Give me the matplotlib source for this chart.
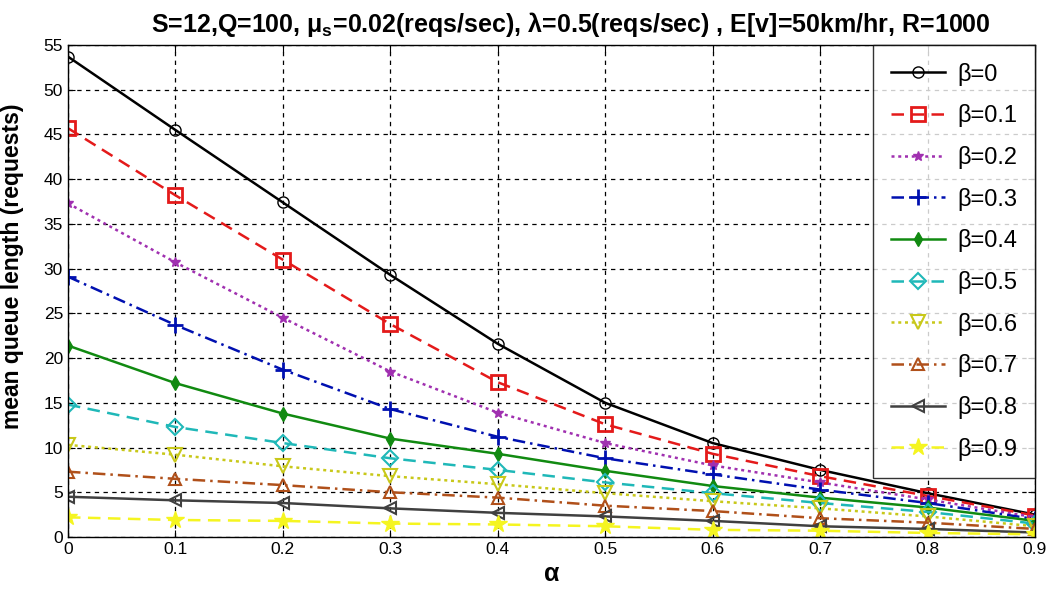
import matplotlib
matplotlib.use("Agg")
import matplotlib.pyplot as plt

plt.rcParams["font.family"] = ["Liberation Sans", "DejaVu Sans"]
plt.rcParams["mathtext.fontset"] = "custom"
plt.rcParams["mathtext.rm"] = "Liberation Sans:bold"
plt.rcParams["mathtext.it"] = "Liberation Sans:bold"
plt.rcParams["mathtext.bf"] = "Liberation Sans:bold"

alpha = [0, 0.1, 0.2, 0.3, 0.4, 0.5, 0.6, 0.7, 0.8, 0.9]

beta_labels = ["β=0", "β=0.1", "β=0.2", "β=0.3", "β=0.4",
               "β=0.5", "β=0.6", "β=0.7", "β=0.8", "β=0.9"]

q_b00 = [53.7, 45.5, 37.4, 29.3, 21.6, 15.0, 10.5, 7.5, 4.9, 2.5]
q_b01 = [45.7, 38.2, 31.0, 23.8, 17.3, 12.6, 9.3, 6.8, 4.6, 2.4]
q_b02 = [37.3, 30.7, 24.5, 18.5, 13.9, 10.5, 8.0, 6.1, 4.2, 2.2]
q_b03 = [29.1, 23.7, 18.7, 14.3, 11.2, 8.8, 7.0, 5.3, 3.8, 2.0]
q_b04 = [21.4, 17.2, 13.8, 11.0, 9.3, 7.4, 5.7, 4.4, 3.3, 1.8]
q_b05 = [14.8, 12.3, 10.5, 8.8, 7.5, 6.1, 4.9, 3.8, 2.8, 1.5]
q_b06 = [10.3, 9.2, 7.9, 6.8, 5.9, 4.9, 4.0, 3.2, 2.3, 1.2]
q_b07 = [7.3, 6.5, 5.8, 5.0, 4.4, 3.5, 2.9, 2.1, 1.6, 0.9]
q_b08 = [4.5, 4.1, 3.8, 3.2, 2.7, 2.3, 1.8, 1.2, 0.9, 0.5]
q_b09 = [2.2, 1.9, 1.8, 1.5, 1.4, 1.2, 0.8, 0.7, 0.45, 0.3]

series = [q_b00, q_b01, q_b02, q_b03, q_b04, q_b05, q_b06, q_b07, q_b08, q_b09]

styles = [
    dict(color="black", ls="-", marker="o", mfc="none", ms=8),
    dict(color="#e41a1a", ls=(0, (5, 3)), marker="s", mfc="none", ms=10, mew=2),
    dict(color="#a030b0", ls=(0, (1.2, 1.5)), marker="*", ms=7),
    dict(color="#0010b0", ls=(0, (5, 2, 1, 2)), marker="+", ms=11, mew=2),
    dict(color="#118a11", ls="-", marker="d", ms=7),
    dict(color="#1fb8b8", ls=(0, (5, 3)), marker="D", mfc="none", ms=8, mew=1.5),
    dict(color="#c8c81a", ls=(0, (1.2, 1.5)), marker="v", mfc="none", ms=10, mew=1.5),
    dict(color="#b0501a", ls=(0, (5, 2, 1, 2)), marker="^", mfc="none", ms=9, mew=1.5),
    dict(color="#404040", ls="-", marker="<", mfc="none", ms=9, mew=1.5),
    dict(color="#f5f520", ls=(0, (5, 3)), marker="*", ms=13),
]

fig = plt.figure(figsize=(10.52, 5.89), dpi=100)
ax = fig.add_axes([0.0646, 0.0883, 0.9192, 0.8353])

for vals, lab, st in zip(series, beta_labels, styles):
    ax.plot(alpha, vals, lw=1.8, label=lab, **st)

ax.set_xlim(0, 0.9)
ax.set_ylim(0, 55)
ax.set_xticks(alpha)
ax.set_xticklabels(["0", "0.1", "0.2", "0.3", "0.4", "0.5", "0.6", "0.7", "0.8", "0.9"])
ax.set_yticks(range(0, 56, 5))
ax.tick_params(direction="in", length=5, labelsize=12.5, top=True, right=True)
ax.grid(True, color="black", ls=(0, (3.5, 3.5)), lw=0.9)
for sp in ax.spines.values():
    sp.set_linewidth(1.0)

ax.set_title(r"S=12,Q=100, $\mu_s$=0.02(reqs/sec), $\lambda$=0.5(reqs/sec) , E[v]=50km/hr, R=1000",
             fontsize=18, fontweight="bold", pad=9, x=0.52)
ax.set_ylabel("mean queue length (requests)", fontsize=16.5, fontweight="bold")
ax.yaxis.set_label_coords(-0.045, 0.55)
ax.set_xlabel("α", fontsize=18, fontweight="bold", labelpad=4)

leg = ax.legend(loc="upper right", fontsize=17, borderaxespad=0, frameon=True,
                fancybox=False, edgecolor="black", handlelength=2.3,
                labelspacing=0.79, borderpad=0.75, handletextpad=0.5)
leg.get_frame().set_linewidth(1.0)

fig.savefig("out.png", dpi=100)
